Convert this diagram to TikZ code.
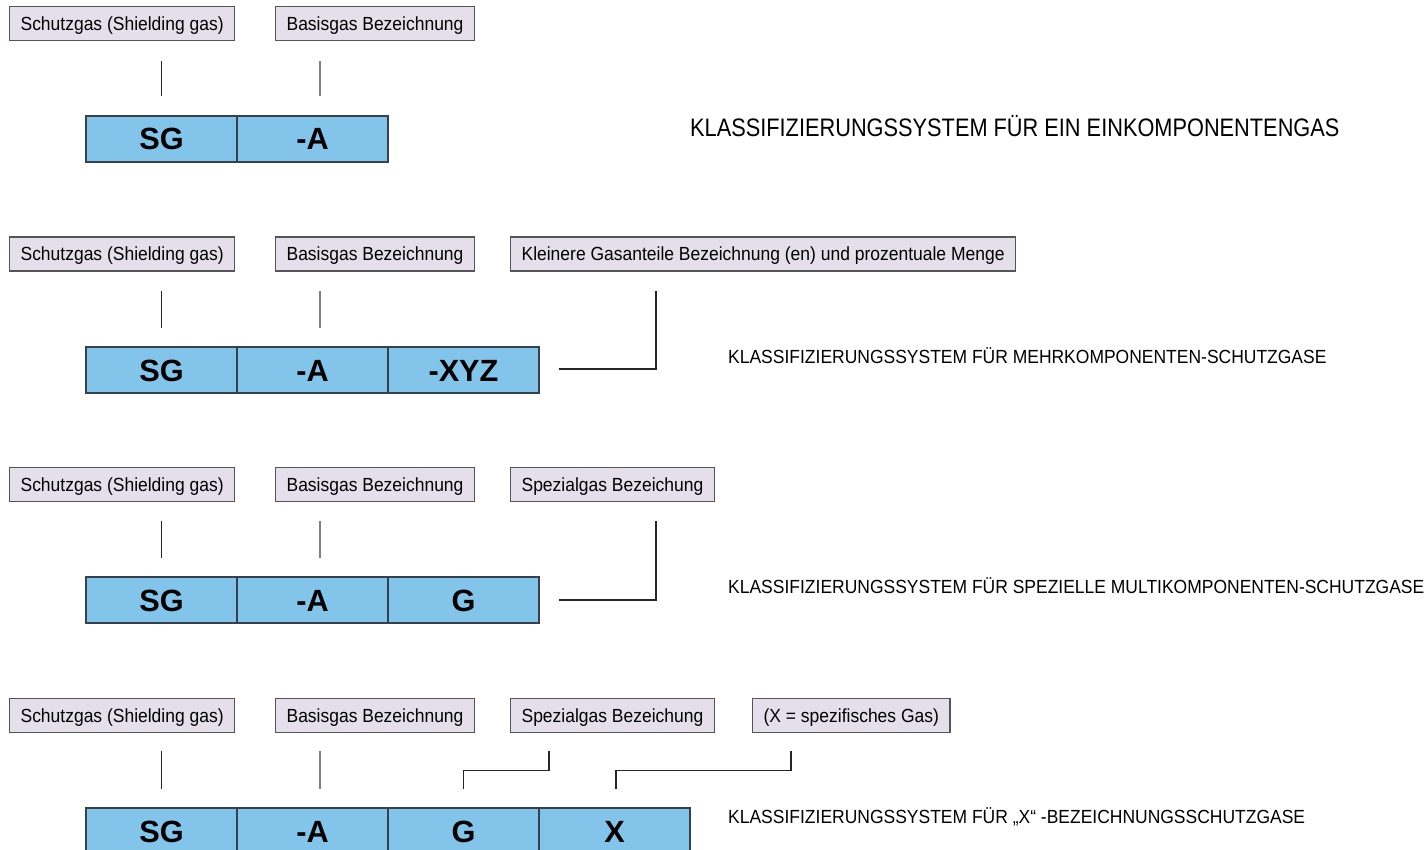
\documentclass[tikz,border=0pt]{standalone}
\usepackage{fontspec}
\setmainfont{Liberation Sans}[FakeStretch=0.92]
\newfontfamily\narrowfont{Liberation Sans}[FakeStretch=0.86]
\newfontfamily\cellfont{Liberation Sans}
\usetikzlibrary{calc}

\definecolor{lilac}{RGB}{229,223,236}
\definecolor{tagframe}{RGB}{85,85,85}
\definecolor{cellblue}{RGB}{131,196,234}
\definecolor{cellframe}{RGB}{55,65,78}

\begin{document}
\begin{tikzpicture}[x=1pt,y=-1pt,
  tag/.style={draw=tagframe, fill=lilac, line width=1.2pt, anchor=west,
    inner xsep=11pt, minimum height=34pt, text height=13.6pt, text depth=0pt,
    font=\fontsize{19}{22}\selectfont},
  cell/.style={draw=cellframe, fill=cellblue, line width=1.3pt, outer sep=0pt,
    minimum width=151pt, minimum height=46pt, inner sep=0pt,
    text height=22pt, text depth=0pt, font=\cellfont\bfseries\fontsize{30.7}{34}\selectfont},
  headline/.style={anchor=west, inner sep=0pt, text height=13.6pt, text depth=0pt,
    font=\fontsize{19}{22}\selectfont},
  link/.style={draw=black!85, line width=1.2pt}]

  \useasboundingbox (0,0) rectangle (1427,850);
  \clip (0,0) rectangle (1427,850);

  % first system: one component gas
  \node[tag] (r1schutz) at (9,23.5) {Schutzgas (Shielding gas)};
  \node[tag] (r1basis) at (275,23.5) {Basisgas Bezeichnung};
  \node[cell] (r1sg) at (161.5,139) {SG};
  \node[cell] (r1a) at (312.5,139) {-A};
  \node[headline, text height=18.1pt, font=\narrowfont\fontsize{25.3}{28}\selectfont]
    (r1title) at (690,127.5) {KLASSIFIZIERUNGSSYSTEM FÜR EIN EINKOMPONENTENGAS};

  \draw[link] ($(r1sg.north |- r1schutz.south)+(0,20)$) -- ($(r1sg.north)+(0,-20)$);
  \draw[link, draw=black!50] ($(r1a.north |- r1basis.south)+(7.5,20)$) -- ($(r1a.north)+(7.5,-20)$);

  % second system: multi component gases
  \node[tag] (r2schutz) at (9,254) {Schutzgas (Shielding gas)};
  \node[tag] (r2basis) at (275,254) {Basisgas Bezeichnung};
  \node[tag] (r2minor) at (510,254) {Kleinere Gasanteile Bezeichnung (en) und prozentuale Menge};
  \node[cell] (r2sg) at (161.5,370) {SG};
  \node[cell] (r2a) at (312.5,370) {-A};
  \node[cell] (r2xyz) at (463.5,370) {-XYZ};
  \node[headline] (r2title) at (728,356.7) {KLASSIFIZIERUNGSSYSTEM FÜR MEHRKOMPONENTEN-SCHUTZGASE};

  \draw[link] ($(r2sg.north |- r2schutz.south)+(0,19)$) -- ($(r2sg.north)+(0,-19)$);
  \draw[link, draw=black!50] ($(r2a.north |- r2basis.south)+(7.5,19)$) -- ($(r2a.north)+(7.5,-19)$);
  \draw[link] ($(r2minor.south west)+(146,19)$) |- ($(r2xyz.east)+(20,-1)$);

  % third system: special multi component gases
  \node[tag] (r3schutz) at (9,484.5) {Schutzgas (Shielding gas)};
  \node[tag] (r3basis) at (275,484.5) {Basisgas Bezeichnung};
  \node[tag] (r3special) at (510,484.5) {Spezialgas Bezeichung};
  \node[cell] (r3sg) at (161.5,600) {SG};
  \node[cell] (r3a) at (312.5,600) {-A};
  \node[cell] (r3g) at (463.5,600) {G};
  \node[headline] (r3title) at (728,586.7) {KLASSIFIZIERUNGSSYSTEM FÜR SPEZIELLE MULTIKOMPONENTEN-SCHUTZGASE};

  \draw[link] ($(r3sg.north |- r3schutz.south)+(0,19)$) -- ($(r3sg.north)+(0,-19)$);
  \draw[link, draw=black!50] ($(r3a.north |- r3basis.south)+(7.5,19)$) -- ($(r3a.north)+(7.5,-19)$);
  \draw[link] ($(r3special.south west)+(146,19)$) |- ($(r3g.east)+(20,0)$);

  % fourth system: "X" gases
  \node[tag] (r4schutz) at (9,715.5) {Schutzgas (Shielding gas)};
  \node[tag] (r4basis) at (275,715.5) {Basisgas Bezeichnung};
  \node[tag] (r4special) at (510,715.5) {Spezialgas Bezeichung};
  \node[tag] (r4gas) at (752,715.5) {(X = spezifisches Gas)};
  \node[cell] (r4sg) at (161.5,831) {SG};
  \node[cell] (r4a) at (312.5,831) {-A};
  \node[cell] (r4g) at (463.5,831) {G};
  \node[cell] (r4x) at (614.5,831) {X};
  \node[headline] (r4title) at (728,816.7) {KLASSIFIZIERUNGSSYSTEM FÜR „X“ -BEZEICHNUNGSSCHUTZGASE};

  \draw[link] ($(r4sg.north |- r4schutz.south)+(0,18)$) -- ($(r4sg.north)+(0,-19)$);
  \draw[link, draw=black!50] ($(r4a.north |- r4basis.south)+(7.5,18)$) -- ($(r4a.north)+(7.5,-19)$);
  \draw[link] ($(r4special.south west)+(39,18)$) -- ++(0,19) -| ($(r4g.north)+(0,-19)$);
  \draw[link] ($(r4gas.south west)+(39,18)$) -- ++(0,19) -| ($(r4x.north)+(1.5,-19)$);
\end{tikzpicture}
\end{document}
